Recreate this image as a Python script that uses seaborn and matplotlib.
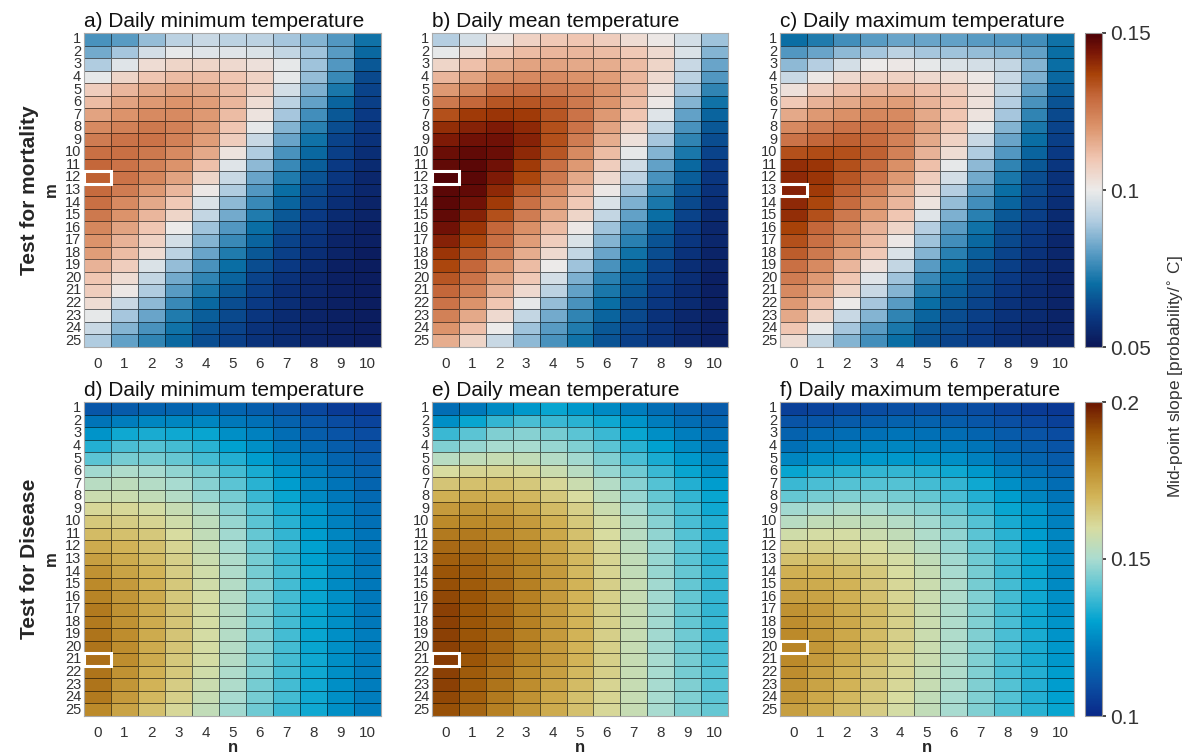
import numpy as np
import pandas as pd
import matplotlib
matplotlib.use("Agg")
import matplotlib.pyplot as plt
from matplotlib.colors import LinearSegmentedColormap
from matplotlib.patches import Rectangle
import seaborn as sns

# mid-point slope values, in 1/1000 probability per degree C
# rows: m = 1..25, columns: n = 0..10
m_values = list(range(1, 26))
n_values = list(range(0, 11))

min_mortality = [
    [78, 80, 87, 92, 94, 92, 92, 89, 85, 79, 71],
    [83, 89, 96, 99, 98, 98, 97, 93, 88, 80, 69],
    [90, 98, 104, 106, 106, 105, 103, 99, 88, 79, 66],
    [99, 106, 110, 112, 112, 110, 107, 99, 87, 76, 63],
    [108, 113, 116, 117, 116, 112, 107, 96, 84, 72, 62],
    [112, 117, 119, 120, 118, 113, 104, 92, 81, 68, 61],
    [117, 120, 122, 122, 119, 112, 102, 89, 77, 66, 60],
    [122, 124, 126, 124, 119, 110, 99, 85, 74, 64, 59],
    [125, 127, 127, 124, 118, 108, 94, 82, 71, 62, 58],
    [128, 128, 126, 122, 116, 102, 90, 78, 69, 61, 57],
    [130, 127, 124, 120, 111, 98, 86, 76, 67, 60, 56],
    [131, 127, 123, 117, 106, 94, 82, 73, 65, 59, 55],
    [129, 125, 119, 113, 101, 90, 79, 70, 63, 58, 55],
    [128, 122, 116, 109, 97, 86, 76, 68, 62, 57, 54],
    [126, 120, 113, 106, 93, 83, 73, 66, 60, 56, 54],
    [123, 117, 110, 100, 88, 79, 70, 64, 59, 55, 53],
    [120, 114, 107, 96, 85, 76, 68, 62, 58, 54, 53],
    [118, 112, 104, 92, 82, 73, 66, 61, 57, 54, 52],
    [114, 108, 97, 87, 78, 70, 64, 60, 56, 53, 52],
    [110, 104, 93, 83, 75, 68, 62, 58, 55, 53, 52],
    [108, 101, 90, 80, 72, 66, 61, 57, 55, 53, 52],
    [104, 94, 86, 76, 69, 64, 60, 57, 54, 53, 52],
    [99, 89, 82, 73, 67, 63, 59, 56, 54, 53, 52],
    [94, 85, 78, 71, 65, 62, 58, 56, 54, 53, 52],
    [90, 81, 75, 69, 64, 61, 58, 56, 54, 53, 52],
]

mean_mortality = [
    [91, 96, 102, 107, 109, 110, 108, 104, 101, 96, 88],
    [99, 104, 109, 112, 113, 113, 112, 109, 105, 97, 85],
    [106, 111, 115, 117, 117, 116, 115, 112, 106, 94, 82],
    [113, 117, 121, 122, 122, 120, 118, 113, 105, 92, 79],
    [119, 123, 127, 128, 126, 124, 120, 113, 103, 89, 75],
    [126, 130, 133, 133, 131, 126, 120, 112, 101, 85, 71],
    [134, 138, 139, 138, 133, 127, 119, 110, 98, 81, 68],
    [140, 142, 143, 141, 134, 127, 117, 107, 93, 78, 66],
    [143, 145, 145, 142, 134, 125, 115, 103, 89, 75, 64],
    [146, 147, 146, 141, 133, 122, 112, 99, 85, 72, 62],
    [147, 148, 145, 138, 128, 119, 108, 95, 81, 69, 60],
    [149, 148, 143, 136, 126, 116, 105, 92, 78, 67, 59],
    [148, 147, 141, 132, 122, 112, 101, 88, 75, 65, 58],
    [148, 145, 138, 128, 119, 109, 97, 84, 72, 63, 57],
    [147, 142, 134, 125, 116, 106, 93, 81, 70, 62, 56],
    [145, 139, 130, 121, 112, 101, 88, 77, 67, 60, 55],
    [142, 136, 128, 118, 108, 97, 85, 74, 65, 59, 55],
    [139, 133, 125, 115, 105, 93, 82, 71, 64, 58, 54],
    [136, 130, 120, 112, 100, 88, 78, 69, 62, 57, 54],
    [133, 127, 117, 109, 96, 84, 74, 67, 61, 57, 53],
    [130, 124, 114, 105, 92, 81, 72, 66, 60, 56, 53],
    [127, 120, 110, 99, 87, 78, 70, 64, 59, 56, 53],
    [124, 116, 105, 93, 83, 75, 68, 63, 58, 55, 53],
    [120, 111, 100, 88, 80, 73, 66, 62, 58, 55, 53],
    [115, 106, 94, 86, 78, 71, 65, 61, 58, 55, 53],
]

max_mortality = [
    [70, 73, 77, 80, 82, 82, 81, 80, 79, 77, 71],
    [79, 82, 86, 89, 92, 89, 88, 87, 85, 81, 70],
    [86, 91, 96, 100, 101, 99, 97, 96, 93, 85, 70],
    [94, 101, 105, 107, 107, 105, 104, 101, 94, 84, 69],
    [103, 108, 111, 113, 113, 111, 108, 103, 93, 81, 67],
    [109, 114, 116, 118, 118, 114, 110, 103, 91, 78, 65],
    [116, 119, 121, 123, 122, 116, 110, 102, 89, 75, 63],
    [122, 125, 127, 127, 124, 117, 109, 99, 85, 72, 62],
    [127, 130, 131, 129, 124, 116, 107, 94, 82, 70, 61],
    [134, 135, 134, 131, 124, 114, 104, 90, 79, 68, 60],
    [140, 139, 134, 129, 121, 111, 99, 86, 75, 66, 59],
    [141, 139, 133, 127, 119, 108, 96, 83, 72, 64, 58],
    [142, 138, 131, 124, 115, 105, 91, 80, 70, 63, 58],
    [141, 136, 129, 121, 113, 102, 87, 77, 68, 62, 57],
    [140, 134, 126, 118, 110, 98, 84, 74, 66, 61, 56],
    [137, 130, 123, 114, 106, 91, 80, 71, 64, 60, 56],
    [134, 128, 121, 112, 101, 88, 77, 69, 63, 59, 55],
    [132, 126, 118, 109, 97, 85, 74, 67, 62, 58, 55],
    [128, 122, 113, 103, 93, 80, 71, 65, 61, 57, 55],
    [125, 119, 110, 98, 88, 76, 69, 64, 60, 57, 54],
    [122, 116, 106, 94, 85, 73, 67, 63, 59, 56, 54],
    [119, 111, 100, 89, 80, 70, 66, 62, 58, 56, 54],
    [116, 106, 94, 85, 75, 68, 64, 61, 58, 56, 54],
    [110, 99, 89, 80, 72, 66, 63, 60, 57, 55, 54],
    [104, 93, 85, 77, 70, 65, 62, 60, 57, 55, 54],
]

min_disease = [
    [112, 113, 115, 116, 117, 116, 114, 111, 108, 105, 104],
    [120, 122, 124, 124, 124, 121, 119, 115, 112, 109, 107],
    [127, 132, 133, 132, 131, 126, 123, 118, 114, 111, 109],
    [134, 139, 140, 138, 135, 130, 126, 121, 117, 114, 111],
    [141, 144, 144, 142, 138, 134, 129, 124, 120, 116, 113],
    [149, 151, 150, 147, 144, 138, 133, 127, 122, 118, 115],
    [153, 154, 152, 150, 146, 141, 135, 129, 124, 120, 116],
    [157, 157, 155, 152, 148, 144, 137, 131, 125, 121, 117],
    [161, 161, 159, 156, 152, 146, 140, 133, 127, 122, 118],
    [165, 164, 162, 158, 154, 148, 141, 135, 128, 123, 119],
    [168, 167, 165, 160, 155, 149, 142, 136, 129, 124, 120],
    [172, 170, 167, 162, 156, 150, 143, 137, 130, 124, 120],
    [175, 172, 168, 163, 157, 151, 144, 137, 130, 125, 120],
    [178, 174, 170, 164, 158, 151, 144, 138, 131, 125, 121],
    [180, 176, 171, 165, 158, 152, 145, 138, 131, 125, 121],
    [181, 177, 172, 165, 159, 152, 145, 138, 131, 126, 121],
    [183, 178, 172, 166, 159, 152, 145, 138, 131, 126, 121],
    [183, 178, 172, 166, 159, 152, 145, 138, 131, 126, 121],
    [184, 179, 172, 166, 159, 152, 145, 138, 131, 126, 122],
    [184, 179, 172, 166, 159, 152, 145, 138, 131, 126, 122],
    [185, 179, 172, 165, 159, 152, 145, 138, 132, 126, 122],
    [184, 178, 171, 165, 158, 151, 145, 138, 132, 126, 122],
    [184, 177, 170, 164, 157, 151, 144, 138, 132, 126, 122],
    [183, 176, 169, 163, 156, 150, 144, 138, 132, 126, 122],
    [180, 174, 167, 161, 155, 149, 143, 137, 132, 126, 122],
]

mean_disease = [
    [118, 121, 125, 128, 131, 128, 125, 122, 118, 115, 113],
    [126, 131, 136, 139, 137, 135, 132, 127, 122, 118, 116],
    [137, 141, 145, 146, 144, 141, 137, 131, 126, 122, 119],
    [145, 148, 150, 150, 148, 145, 141, 135, 130, 125, 121],
    [153, 155, 156, 155, 152, 149, 145, 139, 133, 128, 124],
    [160, 162, 162, 161, 157, 153, 148, 143, 137, 131, 126],
    [166, 167, 167, 165, 161, 157, 152, 146, 140, 134, 129],
    [171, 172, 171, 169, 165, 160, 154, 148, 142, 136, 131],
    [176, 177, 176, 173, 168, 163, 157, 150, 144, 138, 132],
    [180, 180, 179, 176, 171, 165, 159, 152, 146, 139, 134],
    [183, 183, 181, 178, 173, 167, 160, 153, 147, 140, 134],
    [186, 185, 183, 180, 174, 168, 161, 154, 148, 141, 135],
    [188, 187, 184, 181, 175, 169, 162, 155, 148, 141, 135],
    [190, 188, 185, 181, 176, 169, 162, 155, 148, 142, 136],
    [191, 189, 186, 182, 176, 170, 163, 156, 149, 142, 136],
    [192, 190, 186, 182, 176, 170, 163, 156, 149, 142, 136],
    [193, 190, 187, 182, 176, 170, 163, 156, 149, 142, 136],
    [193, 190, 187, 182, 176, 170, 163, 156, 149, 142, 137],
    [193, 190, 187, 182, 176, 170, 163, 156, 149, 143, 137],
    [193, 191, 187, 182, 176, 170, 163, 156, 149, 143, 138],
    [194, 190, 186, 181, 176, 170, 163, 156, 150, 144, 139],
    [193, 189, 185, 180, 175, 169, 163, 156, 150, 144, 140],
    [193, 189, 184, 179, 174, 168, 162, 156, 150, 145, 140],
    [192, 188, 183, 178, 173, 167, 162, 156, 150, 145, 141],
    [191, 187, 182, 177, 172, 167, 161, 156, 150, 145, 142],
]

max_disease = [
    [106, 107, 108, 109, 110, 110, 110, 109, 107, 105, 104],
    [111, 112, 113, 114, 115, 115, 114, 112, 110, 108, 106],
    [115, 117, 118, 119, 120, 119, 118, 116, 113, 111, 109],
    [119, 122, 123, 124, 124, 123, 122, 120, 116, 114, 111],
    [124, 126, 127, 128, 128, 127, 126, 123, 119, 116, 113],
    [131, 134, 135, 136, 136, 134, 132, 128, 123, 119, 116],
    [137, 139, 140, 140, 140, 138, 136, 132, 126, 122, 118],
    [142, 144, 145, 145, 144, 142, 139, 134, 129, 124, 120],
    [149, 150, 151, 150, 148, 146, 142, 137, 131, 127, 122],
    [153, 155, 155, 154, 152, 149, 145, 140, 133, 128, 123],
    [158, 159, 159, 157, 155, 151, 147, 141, 135, 129, 124],
    [163, 163, 162, 160, 157, 153, 148, 142, 136, 130, 124],
    [167, 167, 165, 162, 159, 155, 149, 143, 137, 131, 125],
    [171, 170, 168, 165, 160, 156, 150, 144, 137, 131, 125],
    [173, 172, 170, 166, 161, 157, 151, 144, 138, 132, 125],
    [175, 174, 171, 167, 162, 157, 151, 145, 138, 132, 126],
    [178, 176, 172, 168, 163, 157, 151, 145, 138, 132, 126],
    [179, 176, 173, 168, 163, 157, 151, 145, 139, 132, 127],
    [180, 177, 173, 168, 163, 157, 151, 145, 139, 133, 127],
    [181, 177, 173, 168, 163, 157, 151, 145, 139, 133, 128],
    [180, 176, 172, 167, 162, 157, 151, 145, 139, 133, 128],
    [179, 175, 171, 166, 162, 156, 151, 145, 139, 134, 129],
    [178, 174, 170, 166, 161, 156, 151, 145, 140, 134, 129],
    [177, 173, 169, 165, 160, 155, 150, 145, 140, 134, 130],
    [175, 172, 168, 164, 159, 155, 150, 145, 140, 135, 131],
]

titles = [
    "a) Daily minimum temperature", "b) Daily mean temperature", "c) Daily maximum temperature",
    "d) Daily minimum temperature", "e) Daily mean temperature", "f) Daily maximum temperature",
]
row_labels = ["Test for mortality", "Test for Disease"]
cbar_label = "Mid-point slope [probability/$^{\\circ}$ C]"

mort_cmap = LinearSegmentedColormap.from_list("mort", [
    (0.00, "#0b1656"), (0.10, "#0a3a84"), (0.20, "#0a6ea4"), (0.30, "#5a9cc4"),
    (0.40, "#b0cce0"), (0.50, "#ecebea"), (0.60, "#f0c6b2"), (0.70, "#dc946c"),
    (0.80, "#c4673a"), (0.87, "#a84208"), (0.94, "#7a1606"), (1.00, "#4c0006"),
])
dis_cmap = LinearSegmentedColormap.from_list("dis", [
    (0.00, "#0a2888"), (0.10, "#0a50a4"), (0.20, "#0074b8"), (0.30, "#00a2d0"),
    (0.40, "#54c2d4"), (0.50, "#aadcd0"), (0.60, "#d8dca0"), (0.70, "#d2b458"),
    (0.80, "#bc8a2a"), (0.90, "#9c5608"), (1.00, "#6a1400"),
])

panels = [
    (min_mortality, mort_cmap, 0.05, 0.15), (mean_mortality, mort_cmap, 0.05, 0.15),
    (max_mortality, mort_cmap, 0.05, 0.15), (min_disease, dis_cmap, 0.1, 0.2),
    (mean_disease, dis_cmap, 0.1, 0.2), (max_disease, dis_cmap, 0.1, 0.2),
]

sns.set_theme(style="white")
plt.rcParams["font.family"] = ["Liberation Sans", "DejaVu Sans"]

W, H = 1187, 754
fig = plt.figure(figsize=(W / 100, H / 100), dpi=100)


def px_axes(x0, y0, x1, y1):
    return fig.add_axes([x0 / W, 1 - y1 / H, (x1 - x0) / W, (y1 - y0) / H])


lefts = [(84, 381), (432, 728), (780, 1074)]
tops = [(33, 347), (402, 716)]

for i, (vals, cmap, vmin, vmax) in enumerate(panels):
    r, c = divmod(i, 3)
    ax = px_axes(lefts[c][0], tops[r][0], lefts[c][1], tops[r][1])
    df = pd.DataFrame(np.array(vals) / 1000, index=m_values, columns=n_values)
    sns.heatmap(df, ax=ax, cmap=cmap, vmin=vmin, vmax=vmax, cbar=False,
                xticklabels=True, yticklabels=True,
                linewidths=0.6, linecolor=(0, 0, 0, 0.55))
    # highlight the cell with the largest slope
    iy, ix = np.unravel_index(np.argmax(df.values), df.shape)
    ax.add_patch(Rectangle((ix, iy), 1, 1, fill=False, edgecolor="white",
                           lw=2.2, clip_on=False, zorder=5))
    ax.set_title(titles[i], loc="left", fontsize=15, pad=4, color="#111")
    ax.tick_params(axis="both", length=0, colors="#333")
    ax.tick_params(axis="x", labelsize=11, pad=7, rotation=0)
    ax.tick_params(axis="y", labelsize=10.5, pad=2, rotation=0)
    ax.set_xlabel("n" if r == 1 else "", fontsize=12, fontweight="bold", labelpad=0)
    if c == 0:
        ax.set_ylabel("m", fontsize=12, fontweight="bold", labelpad=4)
        fig.text(30 / W, 1 - ((tops[r][0] + tops[r][1]) / 2) / H, row_labels[r],
                 rotation=90, fontsize=15, fontweight="bold", ha="center", va="center")
    else:
        ax.set_ylabel("")
    for s in ax.spines.values():
        s.set_visible(True)
        s.set_color("#aaaaaa")
        s.set_linewidth(0.8)

    if c == 2:
        cax = px_axes(1085, tops[r][0], 1102, tops[r][1])
        cb = fig.colorbar(ax.collections[0], cax=cax)
        ticks = [vmin, (vmin + vmax) / 2, vmax]
        cb.set_ticks(ticks)
        cb.set_ticklabels([f"{t:g}" for t in ticks])
        cb.ax.tick_params(labelsize=15, length=3, colors="#333", pad=3)
        cb.outline.set_edgecolor("#999999")
        cb.outline.set_linewidth(0.8)

fig.text(1176 / W, 0.5, cbar_label, rotation=90, fontsize=12.5, color="#333",
         ha="center", va="center")

fig.savefig("out.png", dpi=100)
